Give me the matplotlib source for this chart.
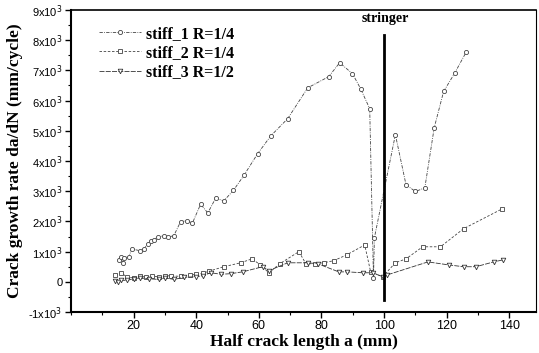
import matplotlib
matplotlib.use("Agg")
import matplotlib.pyplot as plt
from matplotlib.ticker import MultipleLocator

# stiff_1 R=1/4 (circles)
x1 = [15.2, 15.9, 16.5, 16.9, 18.5, 19.4, 22.0, 23.2, 24.5, 25.5, 26.4, 27.7, 29.6, 30.9,
      32.8, 35.0, 36.9, 38.8, 41.4, 43.7, 46.2, 48.8, 51.9, 55.2, 59.6, 63.8, 69.2, 75.6,
      82.3, 85.8, 89.9, 92.5, 95.4, 96.6, 96.9, 103.6, 107.0, 110.0, 113.0, 116.0, 119.0,
      122.5, 126.3]
y1 = [730, 830, 620, 800, 830, 1090, 1030, 1090, 1260, 1360, 1390, 1490, 1520, 1490,
      1520, 1990, 2020, 1950, 2570, 2280, 2770, 2680, 3030, 3520, 4240, 4830, 5400, 6420,
      6790, 7250, 6890, 6390, 5730, 130, 1460, 4870, 3210, 2990, 3110, 5100, 6300,
      6900, 7620]

# stiff_2 R=1/4 (squares)
x2 = [14.2, 16.0, 18.0, 20.0, 22.0, 24.0, 26.0, 28.0, 30.0, 32.0, 35.0, 38.0, 40.0, 42.0,
      44.0, 48.8, 54.2, 57.8, 60.5, 63.2, 66.7, 72.8, 75.0, 77.9, 80.7, 83.9, 88.0, 93.8,
      95.7, 99.5, 103.6, 107.0, 112.3, 118.0, 125.4, 137.8]
y2 = [230, 300, 150, 130, 180, 160, 180, 170, 200, 200, 180, 220, 250, 280,
      350, 500, 630, 760, 560, 300, 600, 1000, 600, 600, 630, 700, 890, 1220,
      330, 170, 630, 760, 1160, 1160, 1760, 2420]

# stiff_3 R=1/2 (triangles)
x3 = [14.0, 15.0, 16.0, 18.0, 20.0, 22.0, 25.0, 28.0, 30.0, 33.0, 36.0, 40.0, 42.0, 44.6,
      48.0, 51.0, 54.8, 61.2, 63.2, 69.2, 75.6, 78.8, 85.5, 88.3, 93.1, 96.3, 99.5, 101.0,
      114.0, 120.6, 125.4, 129.3, 135.0, 138.1]
y3 = [30, 0, 50, 50, 100, 130, 100, 80, 130, 80, 150, 170, 200, 300,
      250, 270, 330, 500, 370, 630, 630, 600, 330, 330, 300, 300, 170, 230,
      660, 560, 500, 500, 660, 730]

labels = ['stiff_1 R=1/4', 'stiff_2 R=1/4', 'stiff_3 R=1/2']
ytick_vals = [-1000, 0, 1000, 2000, 3000, 4000, 5000, 6000, 7000, 8000, 9000]
ytick_labels = ['-1x10$^3$', '0'] + ['%dx10$^3$' % i for i in range(1, 10)]
xtick_vals = [20, 40, 60, 80, 100, 120, 140]

stringer_x = [100, 100]
stringer_y = [-600, 8180]

serif = ['Liberation Serif', 'DejaVu Serif']
sans = ['Liberation Sans Narrow', 'Liberation Sans', 'DejaVu Sans']

fig = plt.figure(figsize=(5.39, 3.53), dpi=100)
ax = fig.add_axes([0.1317, 0.116, 0.8627, 0.856])

ax.plot(x1, y1, color='#444444', linewidth=0.6, linestyle=(0, (4, 1.5, 1, 1.5)),
        marker='o', markersize=3.0, markerfacecolor='white', markeredgewidth=0.6,
        label=labels[0])
ax.plot(x2, y2, color='#444444', linewidth=0.6, linestyle=(0, (3, 2)),
        marker='s', markersize=3.0, markerfacecolor='white', markeredgewidth=0.6,
        label=labels[1])
ax.plot(x3, y3, color='#333333', linewidth=0.6, linestyle=(0, (6, 1.5)),
        marker='v', markersize=3.3, markerfacecolor='white', markeredgewidth=0.6,
        label=labels[2])

ax.plot(stringer_x, stringer_y, color='black', linewidth=2.0)
ax.text(100.5, 8700, 'stringer', ha='center', va='center', fontsize=10,
        fontweight='bold', family=serif)

ax.set_xlim(0, 148.5)
ax.set_ylim(-1000, 9000)
ax.set_xticks(xtick_vals)
ax.set_xticklabels([str(v) for v in xtick_vals], family=sans, fontsize=9)
ax.set_yticks(ytick_vals)
ax.set_yticklabels(ytick_labels, family=sans, fontsize=8)
ax.xaxis.set_minor_locator(MultipleLocator(10))
ax.yaxis.set_minor_locator(MultipleLocator(500))
ax.tick_params(which='major', direction='out', length=4, width=1.0, pad=2)
ax.tick_params(which='minor', direction='out', length=2, width=0.8)

ax.spines['left'].set_linewidth(1.5)
ax.spines['bottom'].set_linewidth(1.5)
ax.spines['top'].set_linewidth(1.2)
ax.spines['right'].set_linewidth(0.8)

ax.set_xlabel('Half crack length a (mm)', fontsize=12.5, fontweight='bold',
              family=serif, labelpad=1)
ax.set_ylabel('Crack growth rate da/dN (mm/cycle)', fontsize=12.5,
              fontweight='bold', family=serif, labelpad=4)

ax.legend(loc='upper left', bbox_to_anchor=(0.03, 0.995), frameon=False,
          prop={'family': serif, 'weight': 'bold', 'size': 11.5},
          handlelength=2.6, handletextpad=0.3, labelspacing=0.2)

fig.savefig('out.png', dpi=100)
